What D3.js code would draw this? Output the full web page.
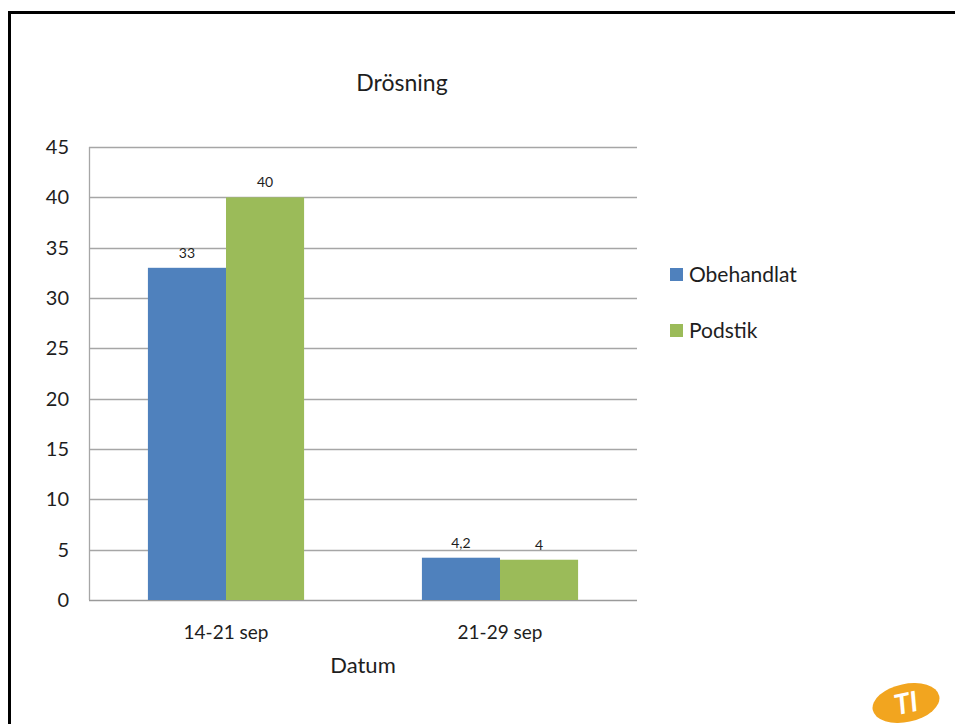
<!DOCTYPE html>
<html>
<head>
<meta charset="utf-8">
<script src="https://cdn.jsdelivr.net/npm/d3@7"></script>
<style>
  body { margin: 0; background: #fff; }
  svg text { font-family: Lato, "Open Sans", sans-serif; fill: #1e1e1e; }
</style>
</head>
<body>
<div class="chart"></div>
<script>
// data
var categories = ["14-21 sep", "21-29 sep"];
var seriesNames = ["Obehandlat", "Podstik"];
var obehandlat = [33, 4.2];
var podstik = [40, 4];
var valueLabels = [["33", "40"], ["4,2", "4"]];
var yTicks = [0, 5, 10, 15, 20, 25, 30, 35, 40, 45];
var colors = ["#4f81bd", "#9bbb59"];

var W = 955, H = 724;
var margin = {top: 147, right: 318, bottom: 124, left: 89},
    width = W - margin.left - margin.right,
    height = H - margin.top - margin.bottom;

var svg = d3.select(".chart")
  .append("svg")
    .attr("width", W)
    .attr("height", H);

// slide frame
svg.append("path")
  .attr("d", "M9.5," + H + "V12.5H" + W)
  .attr("fill", "none")
  .attr("stroke", "#000")
  .attr("stroke-width", 3);

var g = svg.append("g")
  .attr("transform", "translate(" + margin.left + "," + margin.top + ")");

var x = d3.scaleBand()
  .domain(categories)
  .range([0, width])
  .paddingInner(0)
  .paddingOuter(0);

var x1 = d3.scaleBand()
  .domain(seriesNames)
  .range([x.bandwidth() * 0.215, x.bandwidth() * 0.785]);

var y = d3.scaleLinear()
  .domain([0, 45])
  .range([height, 0]);

// gridlines
g.append("g")
  .selectAll("line")
  .data(yTicks)
  .enter()
  .append("line")
    .attr("x1", 0)
    .attr("x2", width)
    .attr("y1", function (d) { return Math.round(y(d)) + 0.5; })
    .attr("y2", function (d) { return Math.round(y(d)) + 0.5; })
    .attr("stroke", function (d) { return d === 0 ? "#9a9a9a" : "#a6a6a6"; })
    .attr("stroke-width", 1.3);

// left axis line
g.append("line")
  .attr("x1", 0.5).attr("x2", 0.5)
  .attr("y1", 0).attr("y2", height)
  .attr("stroke", "#a6a6a6")
  .attr("stroke-width", 1.3);

// y tick labels
var yAxis = g.append("g")
  .call(d3.axisLeft(y).tickValues(yTicks).tickSize(0).tickPadding(20));
yAxis.select(".domain").remove();
yAxis.selectAll("text")
  .attr("font-family", "Lato, 'Open Sans', sans-serif")
  .attr("font-size", "20px")
  .attr("fill", "#1e1e1e");

// bars
var rows = categories.map(function (c, i) {
  return {cat: c, vals: [obehandlat[i], podstik[i]], labels: valueLabels[i]};
});

var groups = g.selectAll(".grp")
  .data(rows)
  .enter()
  .append("g")
    .attr("class", "grp")
    .attr("transform", function (d) { return "translate(" + x(d.cat) + ",0)"; });

groups.selectAll("rect")
  .data(function (d) { return d.vals.map(function (v, j) { return {s: seriesNames[j], v: v, j: j}; }); })
  .enter()
  .append("rect")
    .attr("x", function (d) { return x1(d.s); })
    .attr("y", function (d) { return y(d.v); })
    .attr("width", x1.bandwidth())
    .attr("height", function (d) { return height - y(d.v); })
    .attr("fill", function (d) { return colors[d.j]; });

groups.selectAll("text.val")
  .data(function (d) { return d.vals.map(function (v, j) { return {s: seriesNames[j], v: v, t: d.labels[j]}; }); })
  .enter()
  .append("text")
    .attr("class", "val")
    .attr("x", function (d) { return x1(d.s) + x1.bandwidth() / 2; })
    .attr("y", function (d) { return y(d.v) - 10; })
    .attr("text-anchor", "middle")
    .attr("font-size", "14px")
    .text(function (d) { return d.t; });

// x labels
g.append("g")
  .selectAll("text")
  .data(categories)
  .enter()
  .append("text")
    .attr("x", function (d) { return x(d) + x.bandwidth() / 2; })
    .attr("y", height + 39)
    .attr("text-anchor", "middle")
    .attr("font-size", "19px")
    .text(function (d) { return d; });

g.append("text")
  .attr("x", width / 2)
  .attr("y", height + 73)
  .attr("text-anchor", "middle")
  .attr("font-size", "22px")
  .text("Datum");

// title
svg.append("text")
  .attr("x", 402)
  .attr("y", 91)
  .attr("text-anchor", "middle")
  .attr("font-size", "23px")
  .text("Drösning");

// legend
var legend = svg.append("g")
  .attr("transform", "translate(670,268)");
var li = legend.selectAll("g")
  .data(seriesNames)
  .enter()
  .append("g")
    .attr("transform", function (d, i) { return "translate(0," + i * 56 + ")"; });
li.append("rect")
  .attr("width", 13).attr("height", 13)
  .attr("fill", function (d, i) { return colors[i]; });
li.append("text")
  .attr("x", 19)
  .attr("y", 14)
  .attr("font-size", "21px")
  .text(function (d) { return d; });

// logo, bottom right
var logo = svg.append("g").attr("transform", "translate(906,703) rotate(-12)");
logo.append("ellipse")
  .attr("rx", 34).attr("ry", 19)
  .attr("fill", "#f2a51f");
logo.append("text")
  .attr("x", 0).attr("y", 10)
  .attr("text-anchor", "middle")
  .attr("font-size", "28px")
  .attr("font-weight", "bold")
  .attr("font-style", "italic")
  .style("fill", "#fff")
  .text("TI");
</script>
</body>
</html>
